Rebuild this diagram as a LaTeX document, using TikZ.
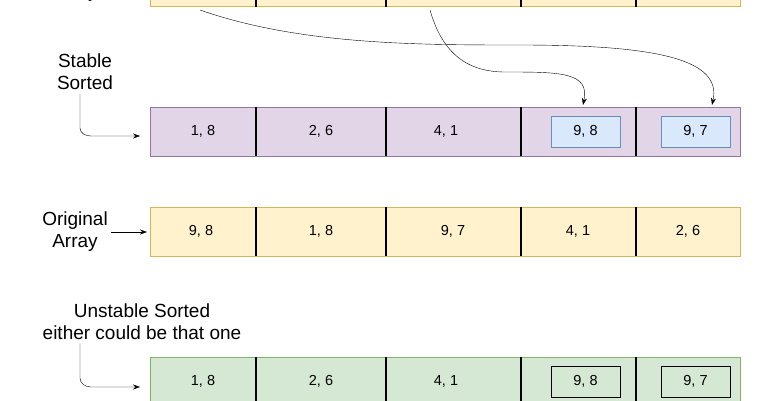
\documentclass[tikz,border=0pt]{standalone}
\usepackage{fontspec}
\setmainfont{Liberation Sans}
\usetikzlibrary{arrows.meta}
\definecolor{purpleF}{HTML}{E1D5E7}\definecolor{purpleD}{HTML}{9673A6}
\definecolor{yellowF}{HTML}{FFF2CC}\definecolor{yellowD}{HTML}{D6B656}
\definecolor{greenF}{HTML}{D5E8D4}\definecolor{greenD}{HTML}{82B366}
\definecolor{blueF}{HTML}{DAE8FC}\definecolor{blueD}{HTML}{6C8EBF}
\tikzset{
  rowbox/.style={draw=#1D, fill=#1F, minimum width=590pt, minimum height=49pt, inner sep=0pt},
  cell/.style={font=\fontsize{14.5}{17}\selectfont},
  inbox/.style={cell, minimum width=69pt, minimum height=31pt, inner sep=0pt},
  lbl/.style={font=\fontsize{19}{22}\selectfont, align=center},
  arr/.style={-{Stealth[length=7pt,width=5pt]}}
}
\begin{document}
\begin{tikzpicture}[x=1pt,y=-1pt]
\useasboundingbox (0,0) rectangle (761,400);
\clip (0,0) rectangle (761,400);
% the four rows
\node[rowbox=yellow] (top) at (445,-18) {};
\node[rowbox=purple] (stable) at (445,131.5) {};
\node[rowbox=yellow] (orig) at (445,231.5) {};
\node[rowbox=green] (unstable) at (445,381.5) {};
\foreach \r in {top,stable,orig,unstable} {
  \foreach \x in {256,386,521,636}
    \draw[line width=1.3pt] (\x,0 |- \r.north) -- (\x,0 |- \r.south);
}
% stable sorted
\node[cell] (s1) at (203,131.5) {1, 8};
\node[cell] (s2) at (321,131.5) {2, 6};
\node[cell] (s3) at (446,131.5) {4, 1};
\node[inbox, draw=blueD, fill=blueF] (s4) at (585.5,131.5) {9, 8};
\node[inbox, draw=blueD, fill=blueF] (s5) at (695.5,131.5) {9, 7};
% original array
\node[cell] (o1) at (201,231.5) {9, 8};
\node[cell] (o2) at (321,231.5) {1, 8};
\node[cell] (o3) at (453,231.5) {9, 7};
\node[cell] (o4) at (578,231.5) {4, 1};
\node[cell] (o5) at (688,231.5) {2, 6};
% unstable sorted
\node[cell] (u1) at (203,381.5) {1, 8};
\node[cell] (u2) at (321,381.5) {2, 6};
\node[cell] (u3) at (446,381.5) {4, 1};
\node[inbox, draw=black, fill=greenF] (u4) at (585.5,381.5) {9, 8};
\node[inbox, draw=black, fill=greenF] (u5) at (695.5,381.5) {9, 7};
% labels
\node[lbl] (ltop) at (75,-18) {Original\\Array};
\node[lbl] (lstable) at (85,72) {Stable\\Sorted};
\node[lbl] (lorig) at (75,232) {Original\\Array};
\node[lbl] (lunst) at (142,322) {Unstable Sorted\\either could be that one};
\draw[arr] (lstable.south -| 80,0) -- (80,128) to[out=-90,in=180] (91,136) -- (140,136);
\draw[arr] (lorig.east) -- (147,232);
\draw[arr] (lunst.south -| 80,0) -- (80,378) to[out=-90,in=180] (91,387) -- (140,387);
% moved items
\coordinate (a) at (200,10);
\coordinate (b) at (430,10);
\draw[arr] (a) .. controls (300,45) and (420,45) .. (520,45)
  .. controls (660,45) and (722,60) .. (712,105);
\draw[arr] (b) .. controls (440,45) and (460,72) .. (505,72)
  .. controls (560,72) and (590,72) .. (583,105);
\end{tikzpicture}
\end{document}
